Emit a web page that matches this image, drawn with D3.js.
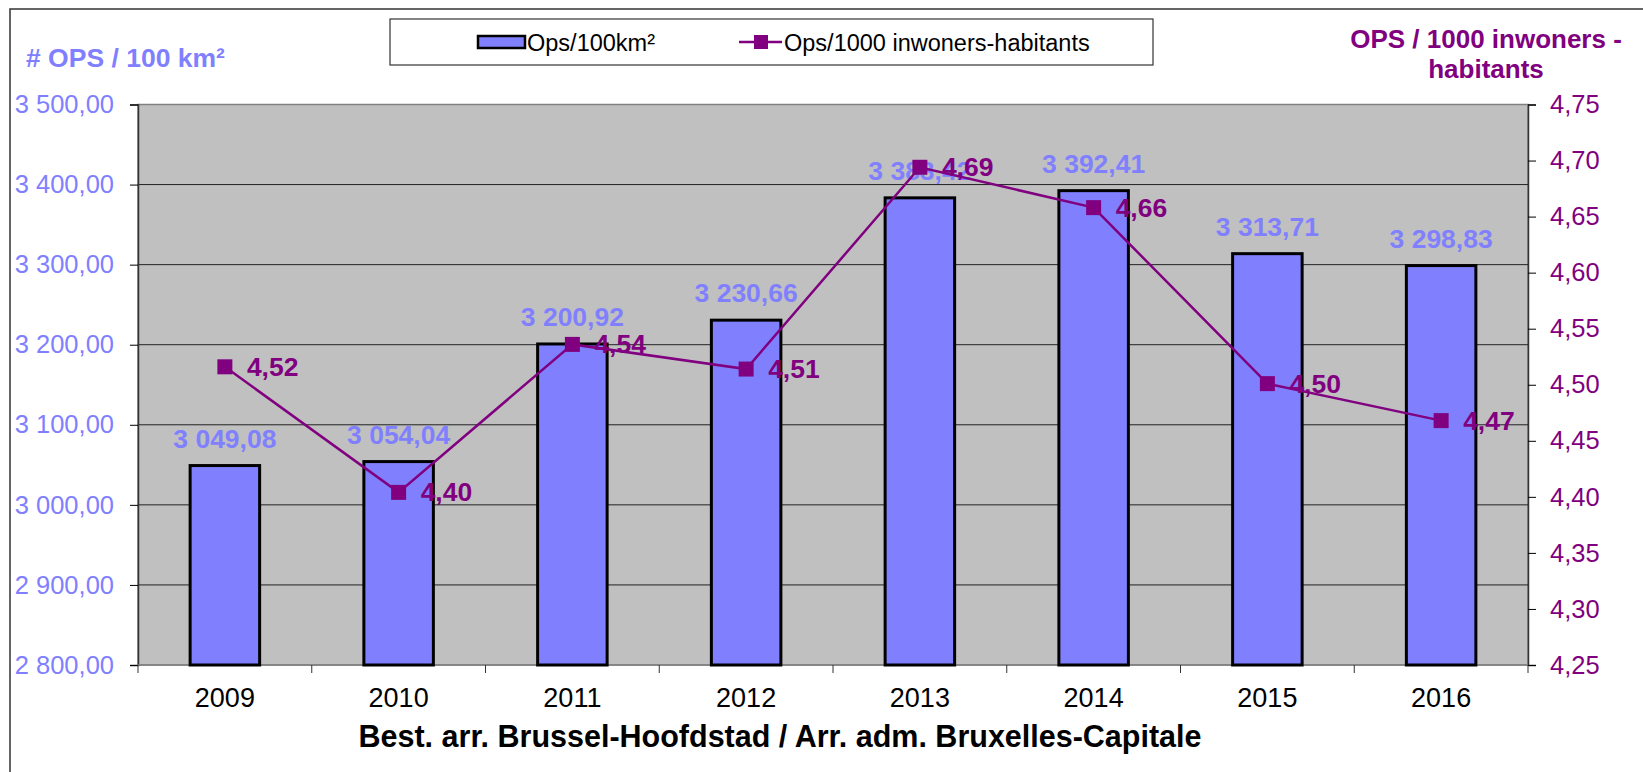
<!DOCTYPE html>
<html>
<head>
<meta charset="utf-8">
<script src="https://cdn.jsdelivr.net/npm/d3@7"></script>
<style>
  body { margin: 0; background: #fff; }
  text { font-family: "Liberation Sans", Arial, sans-serif; }
</style>
</head>
<body>
<div id="chart"></div>
<script>
// data
var years = ["2009", "2010", "2011", "2012", "2013", "2014", "2015", "2016"];
var opsPerKm = [3049.08, 3054.04, 3200.92, 3230.66, 3383.42, 3392.41, 3313.71, 3298.83];
var opsPerInhab = [4.516, 4.404, 4.536, 4.514, 4.694, 4.658, 4.501, 4.468];
var leftTicks = [2800, 2900, 3000, 3100, 3200, 3300, 3400, 3500];
var rightTicks = [4.25, 4.30, 4.35, 4.40, 4.45, 4.50, 4.55, 4.60, 4.65, 4.70, 4.75];

var W = 1643, H = 772;
var plot = {left: 138, right: 1528, top: 104.5, bottom: 665};

var barColor = "#8080FF", lineColor = "#800080";

var locale = d3.formatLocale({decimal: ",", thousands: " ", grouping: [3], currency: ["", ""]});
var fmt2 = locale.format(",.2f");

var svg = d3.select("#chart").append("svg")
    .attr("width", W)
    .attr("height", H);

// outer frame
svg.append("rect")
    .attr("x", 10).attr("y", 9)
    .attr("width", W + 20).attr("height", H + 20)
    .attr("fill", "none")
    .attr("stroke", "#333").attr("stroke-width", 1.5);

var x = d3.scaleBand()
    .domain(years)
    .range([plot.left, plot.right])
    .paddingInner(0).paddingOuter(0);

var yLeft = d3.scaleLinear().domain([2800, 3500]).range([plot.bottom, plot.top]);
var yRight = d3.scaleLinear().domain([4.25, 4.75]).range([plot.bottom, plot.top]);

// plot background
svg.append("rect")
    .attr("x", plot.left).attr("y", plot.top)
    .attr("width", plot.right - plot.left)
    .attr("height", plot.bottom - plot.top)
    .attr("fill", "#C0C0C0")
    .attr("stroke", "#808080").attr("stroke-width", 1.5);

// gridlines
svg.append("g")
    .selectAll("line")
    .data(leftTicks.slice(1, -1))
    .enter().append("line")
    .attr("x1", plot.left).attr("x2", plot.right)
    .attr("y1", function(d) { return yLeft(d); })
    .attr("y2", function(d) { return yLeft(d); })
    .attr("stroke", "#222").attr("stroke-width", 1);

// left axis
var axL = svg.append("g")
    .attr("transform", "translate(" + plot.left + ",0)")
    .call(d3.axisLeft(yLeft).tickValues(leftTicks).tickSize(8).tickPadding(16).tickFormat(fmt2));
axL.select(".domain").attr("stroke", "#333").attr("stroke-width", 1.5);
axL.selectAll(".tick line").attr("stroke", "#000");
axL.selectAll("text").attr("font-size", 25.5).attr("fill", barColor);

// right axis
var axR = svg.append("g")
    .attr("transform", "translate(" + plot.right + ",0)")
    .call(d3.axisRight(yRight).tickValues(rightTicks).tickSize(8).tickPadding(14).tickFormat(fmt2));
axR.select(".domain").attr("stroke", "#333").attr("stroke-width", 1.5);
axR.selectAll(".tick line").attr("stroke", "#000");
axR.selectAll("text").attr("font-size", 25.5).attr("fill", lineColor);

// bottom axis: ticks between categories
var axB = svg.append("g")
    .attr("transform", "translate(0," + plot.bottom + ")");
axB.append("line")
    .attr("x1", plot.left).attr("x2", plot.right)
    .attr("stroke", "#808080").attr("stroke-width", 1.5);
axB.selectAll(".sep")
    .data(years.concat(["end"]))
    .enter().append("line")
    .attr("class", "sep")
    .attr("x1", function(d) { return d == "end" ? plot.right : x(d); })
    .attr("x2", function(d) { return d == "end" ? plot.right : x(d); })
    .attr("y1", 0).attr("y2", 8)
    .attr("stroke", "#333");
axB.selectAll(".lbl")
    .data(years)
    .enter().append("text")
    .attr("class", "lbl")
    .attr("x", function(d) { return x(d) + x.bandwidth() / 2; })
    .attr("y", 42)
    .attr("text-anchor", "middle")
    .attr("font-size", 27)
    .attr("fill", "#000")
    .text(function(d) { return d; });

// bars
var barW = x.bandwidth() * 0.4;
svg.append("g")
    .selectAll("rect")
    .data(opsPerKm)
    .enter().append("rect")
    .attr("x", function(d, i) { return x(years[i]) + (x.bandwidth() - barW) / 2; })
    .attr("y", function(d) { return yLeft(d); })
    .attr("width", barW)
    .attr("height", function(d) { return plot.bottom - yLeft(d); })
    .attr("fill", barColor)
    .attr("stroke", "#000").attr("stroke-width", 3);

// bar labels
svg.append("g")
    .selectAll("text")
    .data(opsPerKm)
    .enter().append("text")
    .attr("x", function(d, i) { return x(years[i]) + x.bandwidth() / 2; })
    .attr("y", function(d) { return yLeft(d) - 18; })
    .attr("text-anchor", "middle")
    .attr("font-size", 26.5).attr("font-weight", "bold")
    .attr("fill", barColor)
    .text(function(d) { return fmt2(d); });

// line
var line = d3.line()
    .x(function(d, i) { return x(years[i]) + x.bandwidth() / 2; })
    .y(function(d) { return yRight(d); });

svg.append("path")
    .datum(opsPerInhab)
    .attr("d", line)
    .attr("fill", "none")
    .attr("stroke", lineColor).attr("stroke-width", 2.5);

var ms = 15;
svg.append("g")
    .selectAll("rect")
    .data(opsPerInhab)
    .enter().append("rect")
    .attr("x", function(d, i) { return x(years[i]) + x.bandwidth() / 2 - ms / 2; })
    .attr("y", function(d) { return yRight(d) - ms / 2; })
    .attr("width", ms).attr("height", ms)
    .attr("fill", lineColor);

svg.append("g")
    .selectAll("text")
    .data(opsPerInhab)
    .enter().append("text")
    .attr("x", function(d, i) { return x(years[i]) + x.bandwidth() / 2 + 22; })
    .attr("y", function(d) { return yRight(d) + 9; })
    .attr("font-size", 26.5).attr("font-weight", "bold")
    .attr("fill", lineColor)
    .text(function(d) { return fmt2(d); });

// axis titles
svg.append("text")
    .attr("x", 26).attr("y", 67)
    .attr("font-size", 26.5).attr("font-weight", "bold")
    .attr("fill", barColor)
    .text("# OPS / 100 km²");

var rt = svg.append("text")
    .attr("x", 1486).attr("y", 48)
    .attr("text-anchor", "middle")
    .attr("font-size", 26).attr("font-weight", "bold")
    .attr("fill", lineColor);
rt.append("tspan").attr("x", 1486).text("OPS / 1000 inwoners -");
rt.append("tspan").attr("x", 1486).attr("dy", 30).text("habitants");

svg.append("text")
    .attr("x", 780).attr("y", 747)
    .attr("text-anchor", "middle")
    .attr("font-size", 30.5).attr("font-weight", "bold")
    .attr("fill", "#000")
    .text("Best. arr. Brussel-Hoofdstad / Arr. adm. Bruxelles-Capitale");

// legend
var lg = svg.append("g");
lg.append("rect")
    .attr("x", 390).attr("y", 19)
    .attr("width", 763).attr("height", 46)
    .attr("fill", "#fff")
    .attr("stroke", "#333").attr("stroke-width", 1.2);
lg.append("rect")
    .attr("x", 478).attr("y", 36)
    .attr("width", 47).attr("height", 12)
    .attr("fill", barColor)
    .attr("stroke", "#000").attr("stroke-width", 2.5);
lg.append("text")
    .attr("x", 527).attr("y", 51)
    .attr("font-size", 23.5)
    .text("Ops/100km²");
lg.append("line")
    .attr("x1", 739).attr("x2", 782)
    .attr("y1", 42).attr("y2", 42)
    .attr("stroke", lineColor).attr("stroke-width", 2.5);
lg.append("rect")
    .attr("x", 754).attr("y", 35)
    .attr("width", 14).attr("height", 14)
    .attr("fill", lineColor);
lg.append("text")
    .attr("x", 784).attr("y", 51)
    .attr("font-size", 23.5)
    .text("Ops/1000 inwoners-habitants");
</script>
</body>
</html>
